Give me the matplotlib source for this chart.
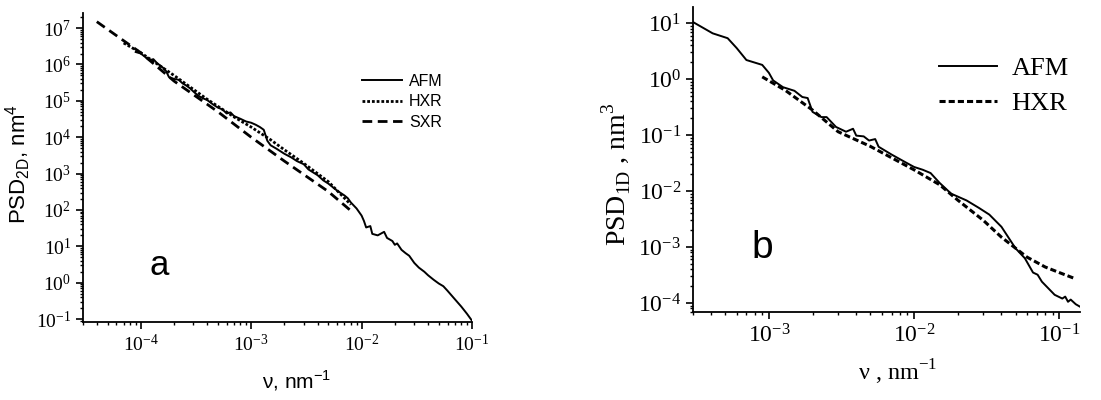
import matplotlib.pyplot as plt
from matplotlib.ticker import LogLocator, NullFormatter

# panel a: 2D PSD
afm_a_x = [9e-5, 1.0e-4, 1.1e-4, 1.2e-4, 1.3e-4, 1.4e-4, 1.6e-4, 1.7e-4, 1.8e-4, 2.0e-4,
           2.2e-4, 2.4e-4, 2.6e-4, 2.8e-4, 3.0e-4, 3.3e-4, 3.6e-4, 4.0e-4, 4.5e-4, 5e-4,
           5.5e-4, 6e-4, 6.5e-4, 7e-4, 8e-4, 9e-4, 1.0e-3, 1.1e-3, 1.2e-3, 1.3e-3,
           1.4e-3, 1.5e-3, 1.7e-3, 2.0e-3, 2.3e-3, 2.6e-3, 3.0e-3, 3.3e-3, 3.6e-3, 4.0e-3,
           4.5e-3, 5e-3, 5.5e-3, 6e-3, 7e-3, 7.5e-3, 8e-3, 9e-3, 1.0e-2, 1.05e-2,
           1.1e-2, 1.2e-2, 1.25e-2, 1.4e-2, 1.6e-2, 1.7e-2, 1.9e-2, 2.0e-2, 2.1e-2, 2.3e-2,
           2.5e-2, 2.7e-2, 3.0e-2, 3.3e-2, 3.7e-2, 4.0e-2, 4.5e-2, 5e-2, 5.5e-2, 6e-2,
           7e-2, 8e-2, 9e-2, 1.0e-1]
afm_a_y = [2.2e6, 2.0e6, 1.6e6, 1.3e6, 1.4e6, 1.1e6, 8e5, 6.5e5, 4.5e5, 4.0e5,
           3.8e5, 3.0e5, 2.6e5, 2.2e5, 1.8e5, 1.4e5, 1.2e5, 1.05e5, 8e4, 6.5e4,
           5.8e4, 4.5e4, 4.8e4, 3.8e4, 3.2e4, 2.7e4, 2.5e4, 2.2e4, 1.9e4, 1.6e4,
           8e3, 6e3, 4.8e3, 3.5e3, 2.8e3, 2.2e3, 1.8e3, 1.3e3, 1.1e3, 9e2,
           6.5e2, 5.3e2, 4.2e2, 3.4e2, 2.5e2, 2.1e2, 1.6e2, 1.1e2, 7e1, 5e1,
           3.3e1, 3.6e1, 2.2e1, 2.0e1, 2.5e1, 1.7e1, 1.4e1, 1.1e1, 1.2e1, 8e0,
           6.5e0, 5.5e0, 3.5e0, 2.6e0, 2.0e0, 1.6e0, 1.2e0, 0.95, 0.8, 0.6,
           0.35, 0.22, 0.14, 0.09]
hxr_a_x = [7e-5, 1e-4, 2e-4, 4e-4, 7e-4, 1e-3, 1.5e-3, 2e-3, 3e-3, 5e-3, 8e-3]
hxr_a_y = [3.9e6, 2.1e6, 5.0e5, 1.1e5, 3.6e4, 1.9e4, 8.5e3, 4.5e3, 1.9e3, 6e2, 1.4e2]
sxr_a_x = [4e-5, 7e-5, 1e-4, 2e-4, 5e-4, 1e-3, 2e-3, 5e-3, 8e-3]
sxr_a_y = [1.5e7, 4.5e6, 2.1e6, 3.5e5, 5e4, 1.0e4, 2.2e3, 3.2e2, 95]

# panel b: 1D PSD
afm_b_x = [3e-4, 4.1e-4, 5.2e-4, 6e-4, 7e-4, 9e-4, 1.0e-3, 1.07e-3, 1.25e-3, 1.5e-3,
           1.7e-3, 1.85e-3, 2.0e-3, 2.3e-3, 2.5e-3, 2.9e-3, 3.4e-3, 3.8e-3, 4.0e-3, 4.5e-3,
           4.9e-3, 5.4e-3, 5.7e-3, 7e-3, 8.5e-3, 1e-2, 1.15e-2, 1.3e-2, 1.5e-2, 1.8e-2,
           2.3e-2, 2.8e-2, 3.3e-2, 4e-2, 5e-2, 5.8e-2, 6.6e-2, 7.1e-2, 7.6e-2, 9.3e-2,
           1.05e-1, 1.1e-1, 1.15e-1, 1.2e-1, 1.3e-1, 1.4e-1]
afm_b_y = [10.5, 6.6, 5.4, 3.6, 2.2, 1.8, 1.3, 0.95, 0.72, 0.62,
           0.48, 0.46, 0.26, 0.21, 0.21, 0.14, 0.115, 0.13, 0.098, 0.095,
           0.08, 0.085, 0.062, 0.045, 0.034, 0.027, 0.024, 0.021, 0.014, 9e-3,
           6.8e-3, 5e-3, 3.8e-3, 2.3e-3, 9.5e-4, 6.3e-4, 3.5e-4, 3.2e-4, 2.4e-4, 1.4e-4,
           1.2e-4, 1.3e-4, 1.05e-4, 1.15e-4, 9.5e-5, 8.5e-5]
hxr_b_x = [9e-4, 1.3e-3, 2e-3, 3e-3, 5e-3, 1e-2, 1.5e-2, 2e-2, 3e-2, 4e-2, 6e-2, 8e-2, 1e-1, 1.25e-1]
hxr_b_y = [1.1, 0.63, 0.28, 0.115, 0.063, 0.024, 0.013, 6.9e-3, 3e-3, 1.5e-3, 6.6e-4, 4.4e-4, 3.5e-4, 2.8e-4]

sans = 'Liberation Sans'
serif = 'Liberation Serif'

fig = plt.figure(figsize=(11.01, 4), dpi=100)

# ---- panel a
ax1 = fig.add_axes([0.0754, 0.195, 0.3533, 0.7725])
ax1.plot(afm_a_x, afm_a_y, 'k-', lw=1.4, label='AFM')
ax1.plot(hxr_a_x, hxr_a_y, color='k', ls=(0, (1, 0.7)), lw=2.0, label='HXR')
ax1.plot(sxr_a_x, sxr_a_y, color='k', ls=(0, (3.5, 2)), lw=2.0, label='SXR')
ax1.set_xscale('log')
ax1.set_yscale('log')
ax1.set_xlim(3e-5, 0.1)
ax1.set_ylim(0.083, 2.6e7)
ax1.yaxis.set_major_locator(LogLocator(base=10, numticks=20))
ax1.yaxis.set_minor_locator(LogLocator(base=10, subs=range(2, 10), numticks=20))
ax1.yaxis.set_minor_formatter(NullFormatter())
ax1.tick_params(which='major', length=5, width=1.2, labelsize=14, labelfontfamily=serif)
ax1.tick_params(which='minor', length=2.5, width=1)
ax1.set_ylabel('PSD$_{\\mathdefault{2D}}$, nm$^{\\mathdefault{4}}$', fontsize=16, family=sans)
ax1.set_xlabel('ν, nm$^{\\mathdefault{-1}}$', fontsize=15, family=sans)
ax1.yaxis.set_label_coords(-0.129, 0.51)
ax1.xaxis.set_label_coords(0.55, -0.15)
ax1.text(0.17, 0.152, 'a', transform=ax1.transAxes, fontsize=25, family=sans)
ax1.legend(loc='upper left', bbox_to_anchor=(0.697, 0.83), frameon=False, borderpad=0,
           handlelength=2.5, handletextpad=0.45, labelspacing=0.35, prop={'family': sans, 'size': 11.5})

# ---- panel b
ax2 = fig.add_axes([0.6294, 0.22, 0.3515, 0.7625])
ax2.plot(afm_b_x, afm_b_y, 'k-', lw=1.4, label='AFM')
ax2.plot(hxr_b_x, hxr_b_y, color='k', ls=(0, (2, 1)), lw=2.2, label='HXR')
ax2.set_xscale('log')
ax2.set_yscale('log')
ax2.set_xlim(3e-4, 0.139)
ax2.set_ylim(6.9e-5, 19.5)
ax2.yaxis.set_minor_formatter(NullFormatter())
ax2.tick_params(which='major', length=5, width=1.2, labelsize=17, labelfontfamily=serif)
ax2.tick_params(which='minor', length=2.5, width=1)
ax2.set_ylabel('PSD$_{\\mathdefault{1D}}$ , nm$^{\\mathdefault{3}}$', fontsize=20, family=serif)
ax2.set_xlabel('ν , nm$^{\\mathdefault{-1}}$', fontsize=17.5, family=serif)
ax2.yaxis.set_label_coords(-0.155, 0.45)
ax2.xaxis.set_label_coords(0.53, -0.15)
ax2.text(0.152, 0.177, 'b', transform=ax2.transAxes, fontsize=28, family=sans)
ax2.legend(loc='upper left', bbox_to_anchor=(0.602, 0.88), frameon=False, borderpad=0,
           handlelength=2.2, handletextpad=0.55, labelspacing=0.42, prop={'family': serif, 'size': 19})

for ax in (ax1, ax2):
    ax.spines['top'].set_visible(False)
    ax.spines['right'].set_visible(False)
    ax.spines['left'].set_linewidth(1.3)
    ax.spines['bottom'].set_linewidth(1.3)

plt.savefig('out.png', dpi=100)
